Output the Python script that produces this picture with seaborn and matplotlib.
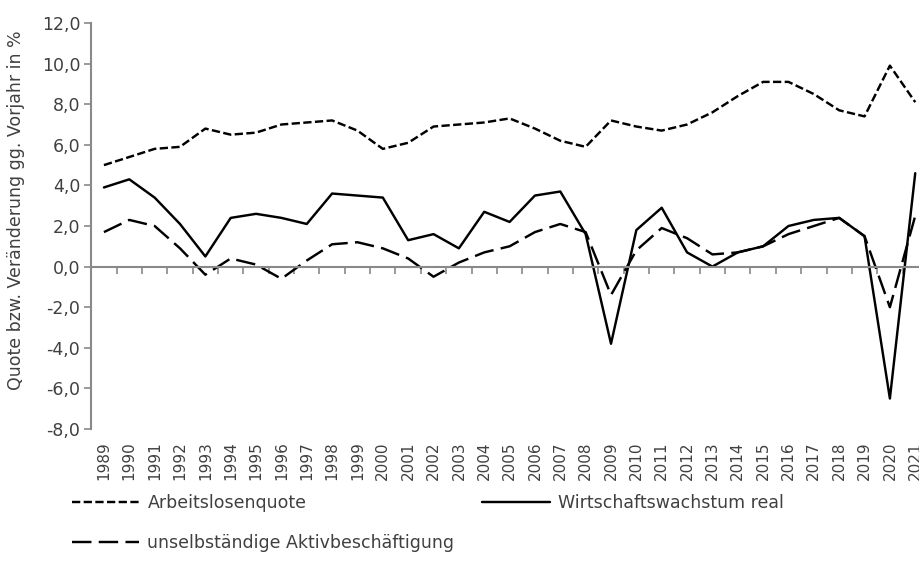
import pandas as pd
import matplotlib.pyplot as plt
import seaborn as sns
from matplotlib.lines import Line2D

# Werte (1989-2021)
years = list(range(1989, 2022))
arbeitslosenquote = [5.0, 5.4, 5.8, 5.9, 6.8, 6.5, 6.6, 7.0, 7.1, 7.2, 6.7, 5.8, 6.1, 6.9, 7.0, 7.1, 7.3,
                     6.8, 6.2, 5.9, 7.2, 6.9, 6.7, 7.0, 7.6, 8.4, 9.1, 9.1, 8.5, 7.7, 7.4, 9.9, 8.1]
wachstum = [3.9, 4.3, 3.4, 2.1, 0.5, 2.4, 2.6, 2.4, 2.1, 3.6, 3.5, 3.4, 1.3, 1.6, 0.9, 2.7, 2.2,
            3.5, 3.7, 1.6, -3.8, 1.8, 2.9, 0.7, 0.0, 0.7, 1.0, 2.0, 2.3, 2.4, 1.5, -6.5, 4.6]
beschaeftigung = [1.7, 2.3, 2.0, 0.9, -0.4, 0.4, 0.1, -0.6, 0.3, 1.1, 1.2, 0.9, 0.4, -0.5, 0.2, 0.7, 1.0,
                  1.7, 2.1, 1.7, -1.4, 0.8, 1.9, 1.4, 0.6, 0.7, 1.0, 1.6, 2.0, 2.4, 1.5, -2.0, 2.5]
names = ['Arbeitslosenquote', 'Wirtschaftswachstum real', 'unselbständige Aktivbeschäftigung']

df = pd.DataFrame({'Jahr': years, names[0]: arbeitslosenquote, names[1]: wachstum, names[2]: beschaeftigung})
long_df = df.melt(id_vars='Jahr', var_name='Reihe', value_name='Wert')

sns.set_style('white')
plt.rcParams['font.family'] = ['DejaVu Sans']

gray = '#898989'
text_color = '#404040'
lw = 1.75
dash_styles = {names[0]: (3.4, 1.4), names[1]: '', names[2]: (8, 3)}

fig = plt.figure(figsize=(9.2, 5.67), dpi=100)
ax = fig.add_axes([0.0992, 0.2434, 0.9094, 0.716])

sns.lineplot(data=long_df, x='Jahr', y='Wert', hue='Reihe', style='Reihe',
             palette={n: 'black' for n in names}, dashes=dash_styles,
             linewidth=lw, legend=False, ax=ax)

ax.set_xlim(years[0] - 0.5, years[-1] + 0.5)
ax.set_ylim(-8, 12)
yt = list(range(-8, 13, 2))
ax.set_yticks(yt)
ax.set_yticklabels([f'{v:.1f}'.replace('.', ',') for v in yt])
ax.tick_params(axis='y', left=True, length=5, width=1.2, color=gray, labelsize=12.5,
               labelcolor=text_color, pad=3)

# x-Achse bei 0 mit Strichen zwischen den Kategorien
ax.spines['bottom'].set_position(('data', 0))
ax.spines['bottom'].set_color(gray)
ax.spines['bottom'].set_linewidth(1.5)
ax.spines['left'].set_color(gray)
ax.spines['left'].set_linewidth(1.5)
ax.spines['top'].set_visible(False)
ax.spines['right'].set_visible(False)
ax.set_xticks([y + 0.5 for y in years[:-1]])
ax.set_xticklabels([])
ax.tick_params(axis='x', bottom=True, length=5, width=1.2, color=gray, direction='out')
ax.set_xlabel('')

# Jahreszahlen unten
sec = ax.secondary_xaxis('bottom')
sec.set_xticks(years, labels=[str(y) for y in years])
sec.tick_params(length=0, labelrotation=90, labelsize=11, labelcolor=text_color, pad=9)
sec.spines['bottom'].set_visible(False)

ax.set_ylabel('Quote bzw. Veränderung gg. Vorjahr in %', fontsize=12.5, color=text_color)
ax.yaxis.set_label_coords(-0.079, 0.54)

handles = [Line2D([], [], color='black', lw=lw, dashes=dash_styles[names[0]]),
           Line2D([], [], color='black', lw=lw, dashes=dash_styles[names[2]]),
           Line2D([], [], color='black', lw=lw, linestyle='-')]
fig.legend(handles=handles, labels=[names[0], names[2], names[1]], ncol=2,
           loc='upper left', bbox_to_anchor=(0.078, 0.128), frameon=False,
           handlelength=3.9, handletextpad=0.46, columnspacing=1.6, labelspacing=1.25,
           borderpad=0, borderaxespad=0, fontsize=12.5, labelcolor=text_color)

fig.savefig('out.png', dpi=100)
